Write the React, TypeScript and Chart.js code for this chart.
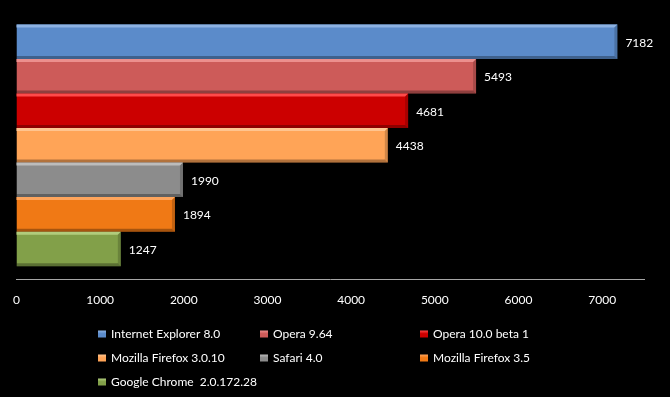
import React, { useEffect, useRef } from "react";
import { Chart, registerables } from "chart.js";

Chart.register(...registerables);

const browsers = [
  "Internet Explorer 8.0",
  "Opera 9.64",
  "Opera 10.0 beta 1",
  "Mozilla Firefox 3.0.10",
  "Safari 4.0",
  "Mozilla Firefox 3.5",
  "Google Chrome  2.0.172.28",
];
const scores = [7182, 5493, 4681, 4438, 1990, 1894, 1247];
const barColors = ["#5b8bca", "#cd5b59", "#cc0000", "#ffa457", "#8c8c8c", "#f07915", "#82a049"];
const highlightColors = ["#8db2e2", "#ec8f8d", "#ff4a4a", "#ffc48f", "#bcbcbc", "#ffa55c", "#b0cc7c"];
const tickValues = [0, 1000, 2000, 3000, 4000, 5000, 6000, 7000];
const axisMax = 7500;

const FONT = "Lato, 'DejaVu Sans', sans-serif";

const bevelPlugin = {
  id: "bevel",
  afterDatasetsDraw(chart: any) {
    const ctx = chart.ctx;
    chart.data.datasets.forEach((ds: any, i: number) => {
      const meta = chart.getDatasetMeta(i);
      meta.data.forEach((el: any, j: number) => {
        const { x, y, base, height } = el.getProps(["x", "y", "base", "height"], true);
        const left = Math.min(base, x);
        const right = Math.max(base, x);
        const top = y - height / 2;
        const bottom = y + height / 2;
        const b = 3;
        ctx.save();
        // top highlight
        ctx.fillStyle = highlightColors[i];
        ctx.beginPath();
        ctx.moveTo(left, top);
        ctx.lineTo(right, top);
        ctx.lineTo(right - b, top + b);
        ctx.lineTo(left, top + b);
        ctx.closePath();
        ctx.fill();
        // right side
        ctx.fillStyle = "rgba(0,0,0,0.18)";
        ctx.beginPath();
        ctx.moveTo(right, top);
        ctx.lineTo(right, bottom);
        ctx.lineTo(right - b, bottom - b);
        ctx.lineTo(right - b, top + b);
        ctx.closePath();
        ctx.fill();
        // bottom shadow
        ctx.fillStyle = "rgba(0,0,0,0.3)";
        ctx.beginPath();
        ctx.moveTo(left, bottom);
        ctx.lineTo(right, bottom);
        ctx.lineTo(right - b, bottom - b);
        ctx.lineTo(left, bottom - b);
        ctx.closePath();
        ctx.fill();
        // value label
        ctx.fillStyle = "#ffffff";
        ctx.font = `12px ${FONT}`;
        ctx.textAlign = "left";
        ctx.textBaseline = "middle";
        ctx.fillText(String(ds.data[j]), right + 8, y + 1);
        ctx.restore();
      });
    });
  },
};

const legendPlugin = {
  id: "gridLegend",
  afterDraw(chart: any) {
    const ctx = chart.ctx;
    const colX = [98, 260, 420];
    const rowY = [334, 358, 382];
    ctx.save();
    ctx.font = `12px ${FONT}`;
    ctx.textBaseline = "middle";
    ctx.textAlign = "left";
    browsers.forEach((name, i) => {
      const cx = colX[i % 3];
      const cy = rowY[Math.floor(i / 3)];
      const g = ctx.createLinearGradient(0, cy - 3.5, 0, cy + 3.5);
      g.addColorStop(0, highlightColors[i]);
      g.addColorStop(0.45, barColors[i]);
      g.addColorStop(1, barColors[i]);
      ctx.fillStyle = g;
      ctx.fillRect(cx, cy - 3.5, 8, 7);
      ctx.fillStyle = "#ffffff";
      ctx.fillText(name, cx + 13, cy);
    });
    ctx.restore();
  },
};

export default function App() {
  const canvasRef = useRef<HTMLCanvasElement | null>(null);

  useEffect(() => {
    document.body.style.margin = "0";
    document.body.style.background = "#000";
    const canvas = canvasRef.current;
    if (!canvas) return;
    const chart = new Chart(canvas, {
      type: "bar",
      data: {
        labels: [""],
        datasets: browsers.map((name, i) => ({
          label: name,
          data: [scores[i]],
          backgroundColor: barColors[i],
          borderWidth: 0,
          categoryPercentage: 0.9,
          barPercentage: 1.0,
        })),
      },
      options: {
        indexAxis: "y",
        animation: false,
        responsive: true,
        maintainAspectRatio: false,
        layout: { padding: { left: 10, right: 26, top: 11, bottom: 77 } },
        plugins: {
          legend: { display: false },
          tooltip: { enabled: false },
        },
        scales: {
          x: {
            type: "linear",
            min: 0,
            max: axisMax,
            afterBuildTicks: (scale: any) => {
              scale.ticks = tickValues.map((v) => ({ value: v }));
            },
            grid: { display: false, drawTicks: false },
            border: { display: true, color: "#a6a6a6", width: 1 },
            ticks: {
              color: "#ffffff",
              padding: 13,
              maxRotation: 0,
              font: { family: FONT, size: 12 },
              callback: (v: any) => String(v),
            },
          },
          y: {
            type: "category",
            display: false,
          },
        },
      },
      plugins: [bevelPlugin, legendPlugin],
    });
    return () => chart.destroy();
  }, []);

  return (
    <div style={{ position: "fixed", left: 0, top: 0, width: 670, height: 397, background: "#000" }}>
      <canvas ref={canvasRef} />
    </div>
  );
}
